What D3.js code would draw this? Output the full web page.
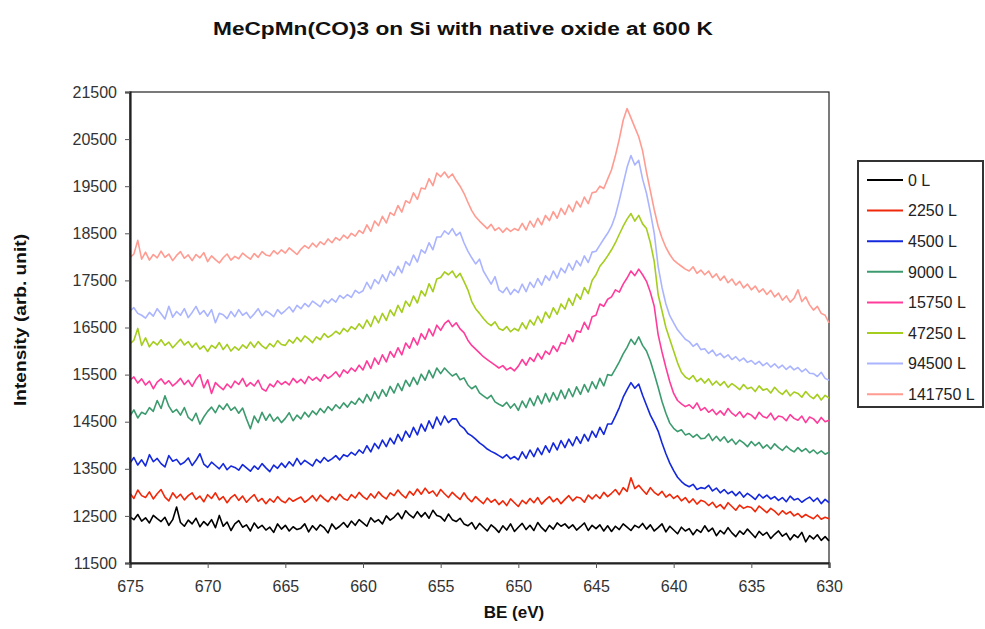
<!DOCTYPE html>
<html>
<head>
<meta charset="utf-8">
<script src="https://cdn.jsdelivr.net/npm/d3@7"></script>
<style>
  html, body { margin: 0; padding: 0; background: #fff; }
  svg { display: block; font-family: "Liberation Sans", Arial, sans-serif; }
</style>
</head>
<body>
<svg id="chart" width="985" height="629"></svg>
<script>
// Binding-energy grid: 675 eV down to 630 eV in 0.25 eV steps
const beStart = 675, beEnd = 630, beStep = 0.25;
const xTicks = [675, 670, 665, 660, 655, 650, 645, 640, 635, 630];
const yTicks = [11500, 12500, 13500, 14500, 15500, 16500, 17500, 18500, 19500, 20500, 21500];

const exposures = ["0 L", "2250 L", "4500 L", "9000 L", "15750 L", "47250 L", "94500 L", "141750 L"];
const colors = ["#000000", "#f0280a", "#1428dc", "#3c9b6e", "#ff3c9b", "#a5cd1e", "#aab4ff", "#ff9b91"];

// Mn 2p spectra, one group of 4 samples per eV
const s0 = [
12480,12420,12530,12390, 12460,12350,12510,12440, 12380,12470,12300,12420, 12690,12360,12280,12410,
12330,12450,12270,12380, 12300,12420,12250,12510, 12280,12370,12190,12330, 12400,12260,12310,12180,
12350,12240,12300,12200, 12260,12150,12330,12220, 12300,12180,12270,12210, 12240,12330,12160,12290,
12200,12310,12250,12140, 12330,12220,12280,12360, 12260,12390,12300,12420, 12350,12280,12460,12370,
12420,12330,12500,12410, 12470,12560,12440,12610, 12520,12460,12590,12480, 12570,12450,12620,12510,
12480,12390,12540,12420, 12380,12450,12330,12290, 12360,12220,12340,12260, 12180,12310,12240,12150,
12290,12200,12330,12170, 12260,12340,12210,12300, 12190,12360,12250,12170, 12300,12220,12350,12280,
12330,12240,12310,12200, 12270,12350,12190,12300, 12230,12310,12180,12290, 12170,12280,12210,12330,
12260,12190,12300,12250, 12340,12220,12310,12180, 12250,12330,12160,12280, 12200,12120,12260,12180,
12230,12100,12210,12150, 12290,12170,12240,12080, 12190,12120,12250,12140, 12060,12180,12110,12220,
12130,12040,12170,12090, 12150,12020,12110,12180, 12070,12130,11990,12100, 12040,12150,11950,12080,
12010,12100,11980,12060, 11970];

const s1 = [
12980,12870,13050,12930, 12890,13010,12860,12970, 13060,12900,12820,12990, 12880,12960,12840,12930,
12990,12850,12920,12800, 12950,12870,12990,12840, 12910,12780,12890,12950, 12830,12920,12790,12880,
12950,12810,12870,12760, 12860,12790,12910,12820, 12780,12880,12810,12860, 12900,12790,12850,12930,
12820,12940,12860,12800, 12910,12840,12960,12870, 12830,12950,12880,13000, 12910,12850,12970,12880,
13010,12920,12860,12990, 12930,13050,12950,12880, 13020,12940,13070,12960, 13090,12980,13030,12920,
13060,12970,12890,13000, 12920,12850,12990,12870, 12800,12910,12830,12760, 12880,12790,12850,12740,
12820,12720,12860,12780, 12700,12830,12760,12870, 12780,12890,12750,12840, 12910,12800,12870,12760,
12850,12930,12820,12900, 12880,12790,12940,12860, 12950,12870,13000,12910, 12980,13060,12950,13100,
13020,13310,13080,13150, 13050,12960,13100,13000, 12940,13020,12900,12960, 12870,12930,12820,12890,
12780,12860,12750,12830, 12800,12720,12790,12680, 12740,12650,12780,12700, 12620,12730,12660,12700,
12680,12590,12710,12640, 12570,12660,12600,12520, 12610,12540,12590,12500, 12550,12470,12530,12480,
12440,12520,12430,12470, 12440];

const s2 = [
13620,13740,13580,13690, 13560,13800,13650,13720, 13610,13540,13780,13660, 13700,13590,13640,13730,
13570,13680,13820,13600, 13530,13640,13570,13500, 13610,13480,13560,13530, 13470,13590,13520,13450,
13560,13490,13610,13520, 13440,13580,13510,13620, 13530,13650,13560,13720, 13590,13680,13620,13560,
13700,13630,13740,13660, 13710,13780,13690,13800, 13760,13850,13790,13900, 13830,13990,13860,14040,
13930,14110,13970,14150, 14030,14230,14090,14300, 14170,14380,14220,14450, 14300,14520,14360,14600,
14430,14620,14480,14560, 14560,14420,14360,14250, 14200,14130,14050,13990, 13920,13870,13830,13780,
13730,13800,13710,13760, 13690,13860,13720,13900, 13760,13940,13800,13990, 13850,14050,13900,14100,
13950,14130,13990,14180, 14040,14230,14090,14300, 14170,14380,14230,14450, 14450,14620,14800,15020,
15180,15330,15210,15300, 15060,14850,14640,14480, 14300,14050,13820,13620, 13460,13320,13230,13160,
13120,13170,13060,13100, 13080,13150,13030,13090, 12990,13060,12970,13020, 12930,13010,12900,12980,
12920,12850,12960,12880, 12940,12860,12910,12830, 12890,12800,12920,12840, 12870,12790,12850,12900,
12810,12880,12760,12850, 12780];

const s3 = [
14620,14750,14580,14700, 14660,14800,14720,14950, 14780,15050,14830,14700, 14760,14640,14800,14590,
14520,14680,14450,14600, 14720,14810,14690,14850, 14760,14880,14740,14810, 14680,14790,14560,14350,
14620,14480,14700,14530, 14660,14510,14600,14480, 14570,14690,14520,14640, 14560,14700,14600,14730,
14650,14780,14690,14820, 14740,14860,14780,14900, 14810,14930,14870,15000, 14900,15080,14940,15140,
14990,15180,15040,15250, 15110,15310,15160,15380, 15250,15440,15290,15510, 15380,15590,15430,15640,
15520,15640,15550,15470, 15520,15390,15430,15280, 15200,15260,15110,15050, 14990,15060,14920,14870,
14830,14910,14790,14880, 14740,14940,14800,15000, 14840,15050,14880,15100, 14920,15120,14960,15170,
14990,15200,15030,15240, 15080,15290,15130,15350, 15200,15420,15260,15500, 15480,15620,15770,15940,
16080,16250,16140,16300, 16120,16000,15790,15520, 15230,14930,14680,14470, 14360,14290,14330,14220,
14250,14170,14230,14140, 14150,14240,14100,14190, 14090,14180,14060,14130, 14020,14110,14050,13970,
14080,13990,14060,13940, 14010,13920,14030,13950, 13890,13980,13910,13860, 13950,13870,13930,13840,
13900,13820,13880,13810, 13850];

const s4 = [
15380,15450,15320,15410, 15280,15360,15200,15340, 15410,15300,15370,15260, 15330,15420,15290,15380,
15250,15400,15500,15220, 15390,15100,15330,15250, 15180,15300,15220,15360, 15290,15420,15250,15330,
15260,15380,15200,15150, 15300,15240,15370,15290, 15350,15280,15420,15330, 15400,15310,15460,15380,
15440,15360,15500,15420, 15480,15560,15450,15600, 15530,15640,15570,15700, 15600,15790,15630,15850,
15720,15920,15770,15990, 15870,16070,15920,16170, 16060,16280,16130,16370, 16250,16470,16320,16550,
16440,16580,16650,16520, 16600,16470,16390,16230, 16120,16040,15960,15880, 15820,15760,15700,15640,
15690,15600,15650,15580, 15680,15820,15700,15860, 15780,15950,15830,16000, 15930,16110,15990,16180,
16150,16350,16200,16430, 16400,16610,16460,16730, 16760,17000,16950,17100, 17150,17300,17250,17420,
17550,17700,17600,17740, 17620,17480,17250,16950, 16350,15980,15650,15350, 15100,14950,14880,14820,
14860,14780,14900,14740, 14800,14700,14760,14650, 14730,14640,14780,14680, 14620,14710,14590,14680,
14640,14560,14700,14610, 14580,14680,14540,14620, 14600,14520,14650,14570, 14530,14620,14480,14600,
14560,14470,14590,14500, 14530];

const s5 = [
16150,16230,16480,16120, 16280,16090,16200,16130, 16240,16120,16190,16070, 16160,16250,16130,16200,
16080,16170,16040,16110, 15990,16120,16060,16180, 16030,16140,16000,16090, 16020,16130,16060,16190,
16080,16200,16110,16050, 16160,16090,16220,16140, 16120,16240,16170,16290, 16200,16320,16260,16180,
16300,16240,16370,16290, 16340,16420,16360,16480, 16410,16520,16460,16580, 16480,16660,16520,16740,
16600,16800,16650,16870, 16750,16970,16820,17060, 16950,17170,17020,17280, 17170,17430,17260,17530,
17560,17680,17620,17700, 17560,17650,17480,17300, 17050,16900,16800,16690, 16600,16540,16620,16480,
16440,16520,16410,16480, 16430,16600,16470,16660, 16550,16740,16600,16830, 16700,16920,16780,17000,
16890,17120,16970,17210, 17100,17350,17220,17500, 17620,17800,17900,18020, 18150,18300,18480,18650,
18800,18920,18760,18880, 18700,18600,18300,17900, 17200,16850,16500,16250, 16000,15750,15550,15450,
15400,15480,15350,15420, 15320,15410,15280,15360, 15270,15350,15230,15310, 15250,15180,15290,15200,
15230,15140,15260,15170, 15200,15110,15230,15140, 15080,15170,15050,15130, 15100,15020,15140,15050,
14990,15080,14960,15060, 15000];

const s6 = [
16850,16920,16800,16760, 16700,16820,16740,16900, 16790,16680,16950,16720, 16840,16760,16900,16710,
16820,16950,16780,16860, 16740,16880,16600,16800, 16770,16690,16840,16730, 16880,16760,16820,16700,
16790,16900,16750,16850, 16800,16730,16880,16790, 16860,16940,16830,16970, 16900,17010,16940,17060,
17000,16940,17080,17020, 17110,17040,17180,17120, 17200,17140,17290,17230, 17280,17460,17320,17520,
17430,17620,17480,17700, 17600,17800,17660,17900, 17820,18040,17890,18150, 18080,18300,18150,18420,
18420,18550,18480,18600, 18450,18520,18300,18120, 17980,17850,17950,17700, 17560,17420,17580,17300,
17240,17350,17200,17310, 17240,17420,17260,17460, 17350,17540,17400,17600, 17500,17700,17550,17760,
17660,17860,17720,17920, 17810,18020,17880,18100, 18120,18250,18380,18500, 18650,18880,19200,19550,
19900,20150,19950,20050, 19650,19350,18950,18500, 17800,17350,17000,16750, 16600,16450,16350,16250,
16200,16100,16160,16030, 16050,15950,16020,15900, 15950,15860,15920,15820, 15880,15790,15850,15760,
15800,15720,15780,15690, 15750,15660,15730,15640, 15700,15610,15680,15600, 15650,15560,15620,15530,
15520,15460,15550,15420, 15380];

const s7 = [
17980,18060,18350,17950, 18100,17930,18050,17980, 18120,17990,18060,17920, 18030,18110,17970,18040,
17920,18050,17980,18090, 17900,18020,17940,17870, 17980,18060,17930,18010, 17960,18080,18010,17950,
18070,17990,18110,18040, 18020,18130,18060,18150, 18080,18190,18120,18050, 18160,18240,18180,18290,
18210,18320,18260,18380, 18300,18410,18350,18460, 18390,18500,18440,18560, 18500,18680,18540,18760,
18660,18860,18720,18940, 18880,19090,18950,19190, 19140,19360,19220,19460, 19440,19660,19510,19780,
19700,19800,19680,19760, 19620,19500,19350,19160, 18980,18850,18760,18680, 18600,18690,18560,18620,
18520,18610,18540,18600, 18560,18710,18570,18760, 18630,18820,18680,18880, 18770,18960,18820,19030,
18900,19100,18960,19180, 19060,19270,19130,19360, 19380,19500,19450,19650, 19850,20150,20500,20900,
21150,20950,20750,20550, 20250,19800,19400,19000, 18650,18400,18200,18050, 17930,17860,17800,17740,
17700,17790,17650,17720, 17620,17700,17560,17640, 17500,17590,17450,17530, 17400,17480,17340,17420,
17300,17380,17250,17320, 17200,17290,17150,17230, 17080,17170,17040,17120, 17300,17050,17150,16980,
16870,16950,16800,16760, 16600];

const series = [s0, s1, s2, s3, s4, s5, s6, s7];

const svg = d3.select("#chart");
const plotBox = { left: 130, top: 92, right: 829, bottom: 563 };

const x = d3.scaleLinear().domain([beStart, beEnd]).range([plotBox.left, plotBox.right]);
const y = d3.scaleLinear().domain([11500, 21500]).range([plotBox.bottom, plotBox.top]);

const be = d3.range(0, series[0].length).map(i => beStart - i * beStep);

// Title
svg.append("text")
  .attr("x", 463).attr("y", 35)
  .attr("text-anchor", "middle")
  .attr("font-size", 18).attr("font-weight", "bold").attr("fill", "#111")
  .attr("textLength", 500).attr("lengthAdjust", "spacingAndGlyphs")
  .text("MeCpMn(CO)3 on Si with native oxide at 600 K");

// Plot frame
svg.append("rect")
  .attr("x", plotBox.left).attr("y", plotBox.top)
  .attr("width", plotBox.right - plotBox.left).attr("height", plotBox.bottom - plotBox.top)
  .attr("fill", "none").attr("stroke", "#222").attr("stroke-width", 1.2);

// Spectra
const line = d3.line().x((d, i) => x(be[i])).y(d => y(d));
const plot = svg.append("g");
series.forEach((s, k) => {
  plot.append("path")
    .datum(s)
    .attr("d", line)
    .attr("fill", "none")
    .attr("stroke", colors[k])
    .attr("stroke-width", 1.6)
    .attr("stroke-linejoin", "round");
});

// Axes
const xAxis = d3.axisBottom(x).tickValues(xTicks).tickSize(5).tickPadding(13).tickFormat(d3.format("d"));
const yAxis = d3.axisLeft(y).tickValues(yTicks).tickSize(5).tickPadding(8).tickFormat(d3.format("d"));

const gx = svg.append("g").attr("transform", `translate(0,${plotBox.bottom})`).call(xAxis);
const gy = svg.append("g").attr("transform", `translate(${plotBox.left},0)`).call(yAxis);

[gx, gy].forEach(g => {
  g.attr("font-size", null).attr("font-family", null);
  g.select(".domain").attr("stroke", "#222").attr("stroke-width", 2.2);
  g.selectAll(".tick line").attr("stroke", "#555").attr("stroke-width", 1);
  g.selectAll(".tick text")
    .attr("font-size", 16).attr("fill", "#333")
    .attr("font-family", "'Liberation Sans', Arial, sans-serif");
});

// Axis titles
svg.append("text")
  .attr("x", 514).attr("y", 618)
  .attr("text-anchor", "middle")
  .attr("font-size", 17).attr("font-weight", "bold").attr("fill", "#111")
  .text("BE (eV)");

svg.append("text")
  .attr("transform", "translate(26,320) rotate(-90)")
  .attr("text-anchor", "middle")
  .attr("font-size", 17).attr("font-weight", "bold").attr("fill", "#111")
  .attr("textLength", 172).attr("lengthAdjust", "spacingAndGlyphs")
  .text("Intensity (arb. unit)");

// Legend
const legend = svg.append("g");
legend.append("rect")
  .attr("x", 858).attr("y", 161).attr("width", 125).attr("height", 246)
  .attr("fill", "#fff").attr("stroke", "#333").attr("stroke-width", 2);

exposures.forEach((name, k) => {
  const ly = 180 + k * 30.6;
  legend.append("line")
    .attr("x1", 867).attr("x2", 903).attr("y1", ly).attr("y2", ly)
    .attr("stroke", colors[k]).attr("stroke-width", 2);
  legend.append("text")
    .attr("x", 908).attr("y", ly).attr("dy", "0.36em")
    .attr("font-size", 16).attr("fill", "#222")
    .text(name);
});
</script>
</body>
</html>
